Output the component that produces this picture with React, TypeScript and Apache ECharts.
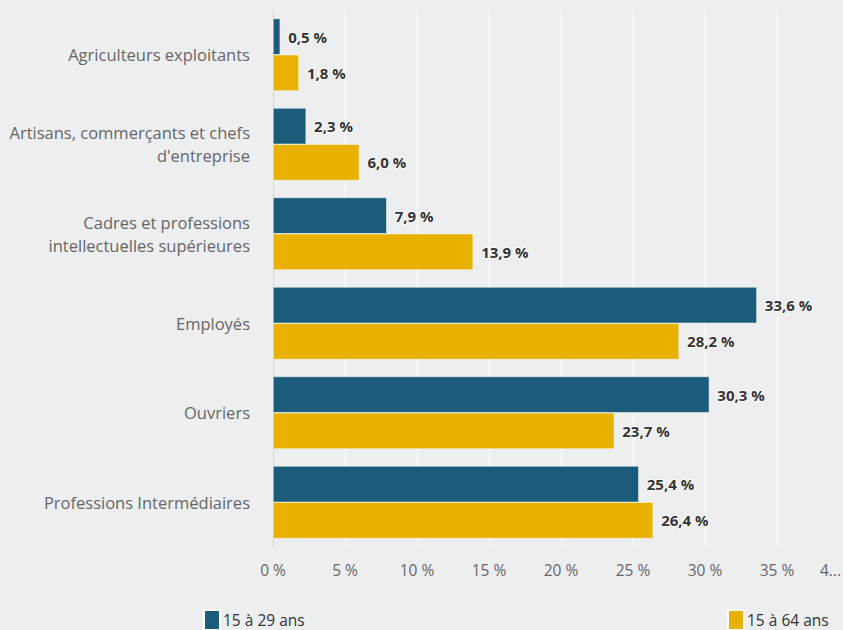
import React, { useEffect, useRef } from "react";
import * as echarts from "echarts";

const categories = [
  "Agriculteurs exploitants",
  "Artisans, commerçants et chefs\nd'entreprise",
  "Cadres et professions\nintellectuelles supérieures",
  "Employés",
  "Ouvriers",
  "Professions Intermédiaires",
];
const seriesNames = ["15 à 29 ans", "15 à 64 ans"];
const young = [0.5, 2.3, 7.9, 33.6, 30.3, 25.4];
const all = [1.8, 6.0, 13.9, 28.2, 23.7, 26.4];
const xTicks = [0, 5, 10, 15, 20, 25, 30, 35, 40];

const fmt = (v: number) => v.toFixed(1).replace(".", ",") + " %";

export default function App() {
  const ref = useRef<HTMLDivElement>(null);
  useEffect(() => {
    if (!ref.current) return;
    const chart = echarts.init(ref.current, null, { renderer: "svg" });
    const font = "'Open Sans', 'Noto Sans', sans-serif";
    const label = {
      show: true,
      position: "right" as const,
      distance: 8,
      formatter: (p: any) => fmt(p.value),
      fontFamily: font,
      fontWeight: "bold" as const,
      fontSize: 15,
      color: "#333333",
      textBorderColor: "#ffffff",
      textBorderWidth: 1.5,
    };
    const legendBase = {
      top: 609,
      itemWidth: 16,
      itemHeight: 20,
      itemGap: 0,
      icon: "rect",
      textStyle: { fontSize: 15.5, color: "#333333", fontFamily: font, padding: [7, 0, 0, -2] },
      padding: 0,
    };
    chart.setOption({
      animation: false,
      backgroundColor: "#edeef0",
      textStyle: { fontFamily: font },
      grid: { left: 273, width: 576, top: 10, bottom: 83, containLabel: false, outerBoundsMode: "none" },
      legend: [
        { ...legendBase, data: [seriesNames[0]], left: 203 },
        { ...legendBase, data: [seriesNames[1]], left: 727 },
      ],
      xAxis: {
        type: "value",
        min: 0,
        max: 40,
        interval: 5,
        axisLine: { show: false },
        axisTick: { show: false },
        splitLine: { show: true, lineStyle: { color: "#ffffff", width: 1 } },
        axisLabel: {
          color: "#666666",
          fontSize: 15.5,
          margin: 15,
          fontFamily: font,
          alignMaxLabel: "right",
          formatter: (v: number) => (v === xTicks[xTicks.length - 1] ? "{e|4...}" : v + " %"),
          rich: {
            e: { color: "#666666", fontSize: 15.5, fontFamily: font, padding: [0, 8, 0, 0] },
          },
        },
      },
      yAxis: {
        type: "category",
        data: categories,
        inverse: true,
        axisLine: { show: true, lineStyle: { color: "#ccd6eb", width: 1 } },
        axisTick: { show: false },
        axisLabel: {
          color: "#666666",
          fontSize: 16.5,
          margin: 23,
          lineHeight: 23,
          align: "right",
          fontFamily: font,
        },
      },
      series: [
        {
          name: seriesNames[0],
          type: "bar",
          data: young,
          barGap: "0%",
          barCategoryGap: "19%",
          itemStyle: { color: "#1c5c7b", borderColor: "#ffffff", borderWidth: 0.5 },
          label,
        },
        {
          name: seriesNames[1],
          type: "bar",
          data: all,
          itemStyle: { color: "#e8b100", borderColor: "#ffffff", borderWidth: 0.5 },
          label,
        },
      ],
    });
    return () => chart.dispose();
  }, []);
  return (
    <div
      ref={ref}
      style={{ position: "fixed", left: 0, top: 0, width: 843, height: 630 }}
    />
  );
}
